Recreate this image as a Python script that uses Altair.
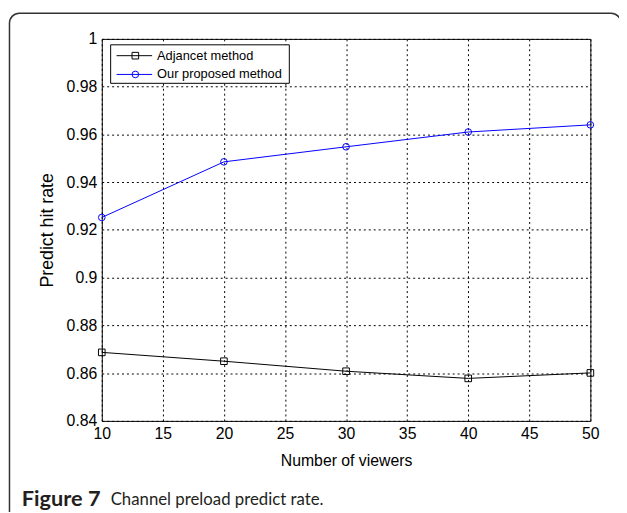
import altair as alt
import pandas as pd

# ---- data ----
viewers = [10, 20, 30, 40, 50]
adjacent = [0.8687, 0.865, 0.8608, 0.8578, 0.8601]
proposed = [0.9252, 0.9485, 0.9548, 0.961, 0.964]
series_names = ["Adjancet method", "Our proposed method"]
series_colors = ["#000000", "#0000ff"]
series_shapes = ["square", "circle"]
x_ticks = [10, 15, 20, 25, 30, 35, 40, 45, 50]
y_ticks = [0.84, 0.86, 0.88, 0.9, 0.92, 0.94, 0.96, 0.98, 1.0]
x_title = "Number of viewers"
y_title = "Predict hit rate"
caption_bold = "Figure 7"
caption_rest = "Channel preload predict rate."

rows = []
for name, vals in zip(series_names, [adjacent, proposed]):
    for v, r in zip(viewers, vals):
        rows.append({"viewers": v, "rate": r, "series": name})
df = pd.DataFrame(rows)

W, H = 495, 387
FONT = "Liberation Sans"

color_scale = alt.Scale(domain=series_names, range=series_colors)
shape_scale = alt.Scale(domain=series_names, range=series_shapes)

x_enc = alt.X(
    "viewers:Q",
    scale=alt.Scale(domain=[10, 50], nice=False, zero=False),
    axis=alt.Axis(
        values=x_ticks, title=x_title, grid=True, gridDash=[2, 3],
        gridColor="#000000", gridOpacity=1, gridWidth=1, ticks=False, domain=False,
        labelFont=FONT, labelFontSize=16, labelColor="#000", labelPadding=5,
        titleFont=FONT, titleFontSize=16, titleFontWeight="normal", titleColor="#000",
        titlePadding=11, labelFlush=False,
    ),
)
y_enc = alt.Y(
    "rate:Q",
    scale=alt.Scale(domain=[0.84, 1.0], nice=False, zero=False),
    axis=alt.Axis(
        values=y_ticks, title=y_title, grid=True, gridDash=[2, 3],
        gridColor="#000000", gridOpacity=1, gridWidth=1, ticks=False, domain=False,
        labelFont=FONT, labelFontSize=16, labelColor="#000", labelPadding=5,
        labelExpr="format(datum.value, '~g')",
        titleFont=FONT, titleFontSize=18, titleFontWeight="normal", titleColor="#000",
        titlePadding=10, labelFlush=False,
    ),
)

base = alt.Chart(df)
lines = base.mark_line(strokeWidth=1).encode(
    x=x_enc, y=y_enc,
    color=alt.Color("series:N", scale=color_scale, legend=None),
    detail="series:N",
)
points = base.mark_point(filled=False, strokeWidth=1, size=45, opacity=1).encode(
    x="viewers:Q", y="rate:Q",
    color=alt.Color("series:N", scale=color_scale, legend=None),
    shape=alt.Shape("series:N", scale=shape_scale, legend=None),
)

# ---- manual MATLAB-style legend ----
leg_df = pd.DataFrame({"series": series_names})
legend_layers = [
    alt.Chart(leg_df).mark_rect(fill="white", stroke="#000", strokeWidth=1).encode(
        x=alt.value(9), x2=alt.value(190), y=alt.value(6), y2=alt.value(45)
    ).transform_filter(alt.datum.series == series_names[0])
]
leg_rows_y = [17, 36]
for i, name in enumerate(series_names):
    sub = alt.Chart(leg_df).transform_filter(alt.datum.series == name)
    legend_layers.append(
        sub.mark_rule(color=series_colors[i], strokeWidth=1).encode(
            x=alt.value(15), x2=alt.value(51), y=alt.value(leg_rows_y[i])
        )
    )
    legend_layers.append(
        sub.mark_point(shape=series_shapes[i], filled=False, color=series_colors[i],
                       size=45, strokeWidth=1, opacity=1).encode(
            x=alt.value(34), y=alt.value(leg_rows_y[i])
        )
    )
    legend_layers.append(
        sub.mark_text(align="left", baseline="middle", font=FONT, fontSize=13,
                      color="#000").encode(
            x=alt.value(56), y=alt.value(leg_rows_y[i]), text="series:N"
        )
    )

# ---- caption & outer frame ----
cap_df = pd.DataFrame({"bold": [caption_bold], "rest": [caption_rest]})
cap_bold = alt.Chart(cap_df).mark_text(
    align="left", baseline="middle", font="Lato", fontSize=22, fontWeight="bold",
    color="#231f20").encode(x=alt.value(-81), y=alt.value(466), text="bold:N")
cap_rest = alt.Chart(cap_df).mark_text(
    align="left", baseline="middle", font="Lato", fontSize=17,
    color="#231f20").encode(x=alt.value(9), y=alt.value(467), text="rest:N")
frame = alt.Chart(cap_df).mark_rect(
    fillOpacity=0, stroke="#333", strokeWidth=1.5, cornerRadius=10).encode(
    x=alt.value(-93.5), x2=alt.value(526), y=alt.value(-26), y2=alt.value(500))

chart = alt.layer(
    frame, lines, points, *legend_layers, cap_bold, cap_rest
).properties(
    width=W, height=H,
    autosize=alt.AutoSizeParams(type="none"),
    padding={"left": 95, "top": 28, "right": 29, "bottom": 89},
    background="white",
).configure_view(stroke="#000", strokeWidth=1)

chart.save("out.html", embed_options={"renderer": "svg", "actions": False})
